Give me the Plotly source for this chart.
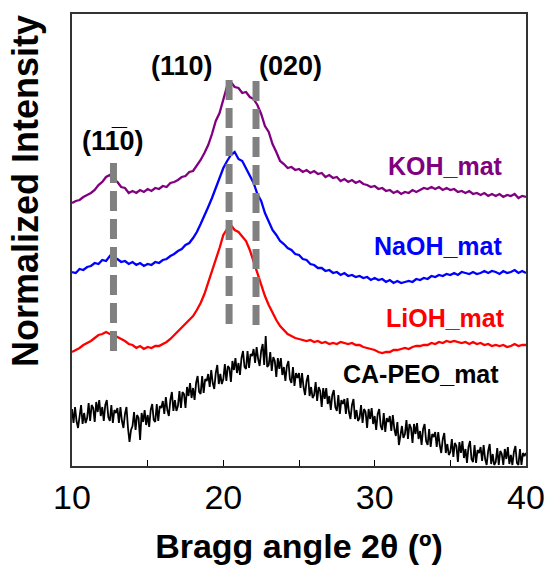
import plotly.graph_objects as go

# ---------------- data ----------------
# 2-theta sampling steps (degrees), all series start at 10 deg
step_colored = 0.25
step_black = 0.1

koh_mat = [
    263, 265, 266, 269, 271, 273, 276, 281, 284, 289, 291, 286,
    284, 279, 278, 273, 275, 273, 276, 274, 277, 275, 278, 277,
    280, 279, 283, 284, 286, 289, 290, 294, 295, 300, 306, 313,
    321, 332, 345, 353, 367, 380, 384, 379, 378, 373, 374, 369,
    367, 361, 352, 340, 334, 322, 314, 305, 302, 298, 299, 296,
    297, 294, 296, 293, 295, 292, 293, 289, 291, 288, 289, 285,
    287, 284, 286, 283, 285, 282, 281, 279, 280, 277, 278, 275,
    276, 273, 275, 272, 274, 273, 276, 274, 276, 278, 277, 279,
    277, 279, 276, 278, 276, 277, 274, 275, 273, 275, 272, 273,
    271, 273, 270, 272, 270, 272, 269, 271, 270, 272, 268, 270,
    269,
]

naoh_mat = [
    194, 193, 197, 196, 199, 200, 203, 202, 206, 205, 210, 206,
    207, 204, 205, 202, 204, 201, 203, 200, 202, 201, 204, 203,
    206, 207, 210, 212, 215, 217, 221, 223, 228, 234, 242, 250,
    259, 268, 278, 288, 298, 305, 311, 314, 307, 305, 298, 291,
    283, 272, 265, 253, 245, 236, 231, 225, 222, 218, 216, 212,
    211, 207, 206, 202, 201, 198, 198, 195, 196, 193, 194, 191,
    193, 190, 191, 189, 190, 188, 189, 186, 188, 186, 187, 184,
    186, 183, 185, 183, 184, 185, 184, 187, 186, 188, 187, 190,
    189, 191, 190, 192, 191, 193, 191, 194, 193, 192, 194, 192,
    193, 195, 193, 195, 194, 192, 195, 193, 194, 196, 193, 195,
    193,
]

lioh_mat = [
    114, 116, 118, 121, 123, 125, 128, 131, 132, 134, 132, 131,
    129, 127, 125, 122, 121, 118, 120, 117, 119, 118, 120, 120,
    122, 124, 127, 131, 135, 138, 142, 146, 150, 156, 163, 172,
    183, 195, 206, 218, 231, 237, 241, 236, 234, 229, 225, 216,
    204, 194, 180, 170, 161, 153, 146, 140, 136, 132, 130, 128,
    127, 126, 125, 126, 124, 125, 123, 124, 122, 123, 122, 124,
    123, 122, 123, 121, 121, 119, 118, 117, 116, 114, 113, 114,
    114, 116, 116, 117, 118, 117, 119, 120, 120, 121, 121, 123,
    122, 124, 123, 125, 124, 125, 124, 123, 124, 122, 124, 122,
    123, 121, 122, 120, 121, 120, 121, 119, 120, 122, 120, 121,
    121,
]

ca_peo_mat = [
    57, 43, 59, 45, 38, 53, 61, 42, 53, 43,              # 10
    48, 63, 45, 61, 58, 44, 64, 54, 66, 50,              # 11
    59, 45, 61, 66, 49, 45, 61, 43, 56, 53,              # 12
    58, 43, 59, 45, 38, 52, 59, 38, 24, 36,              # 13
    40, 54, 36, 51, 48, 26, 53, 44, 56, 41,              # 14
    51, 39, 56, 62, 46, 44, 62, 45, 60, 58,              # 15
    65, 52, 69, 56, 50, 66, 74, 55, 66, 55,              # 16
    60, 75, 58, 74, 72, 58, 79, 70, 83, 68,              # 17
    78, 66, 83, 90, 74, 72, 90, 73, 87, 85,              # 18
    92, 79, 96, 83, 77, 93, 101, 82, 92, 82,             # 19
    87, 102, 85, 100, 98, 84, 105, 96, 108, 93,          # 20
    103, 91, 108, 115, 99, 97, 115, 98, 112, 110,        # 21
    117, 103, 119, 107, 100, 115, 122, 101, 130, 99,     # 22
    101, 114, 95, 109, 105, 89, 108, 97, 108, 91,        # 23
    99, 85, 100, 105, 87, 83, 99, 80, 93, 88,            # 24
    93, 78, 93, 79, 71, 85, 91, 70, 79, 68,              # 25
    71, 84, 65, 79, 75, 59, 78, 67, 78, 62,              # 26
    70, 56, 71, 76, 59, 55, 71, 52, 66, 62,              # 27
    67, 52, 68, 54, 47, 61, 67, 47, 56, 45,              # 28
    48, 61, 43, 57, 54, 38, 57, 47, 58, 42,              # 29
    50, 36, 52, 57, 40, 36, 53, 34, 48, 44,              # 30
    50, 35, 51, 37, 30, 44, 21, 30, 40, 28,              # 31
    32, 46, 27, 42, 38, 23, 42, 32, 43, 27,              # 32
    35, 21, 37, 42, 25, 21, 37, 19, 32, 29,              # 33
    34, 19, 34, 21, 13, 27, 33, 13, 22, 11,              # 34
    14, 27, 9, 23, 20, 4, 24, 13, 25, 8,                 # 35
    17, 3, 19, 25, 7, 4, 21, 3, 16, 13,                  # 36
    19, 5, 21, 7, 1, 15, 22, 2, 12, 1,                   # 37
    4, 18, 1, 15, 12, 1, 17, 7, 19, 2,                   # 38
    11, 1, 14, 20, 3, 1, 17, 1, 13, 10,                  # 39
    13,                                                  # 40
]

series_names = ["KOH_mat", "NaOH_mat", "LiOH_mat", "CA-PEO_mat"]
series_colors = ["#800080", "#0000FF", "#FF0000", "#000000"]
label_x = [34.65, 34.19, 34.65, 33.07]
label_y = [300, 220, 148, 92]

# reflection markers
peak_pos = [12.74, 20.38, 22.16]
peak_top = [303, 386, 385]
peak_bottom = [113, 138, 136]
peak_text = ["(11\u03050)", "(110)", "(020)"]
peak_label_x = [12.74, 17.30, 24.41]
peak_label_y = [325, 400, 400]

FONT = "Arial, Liberation Sans, sans-serif"

# ---------------- figure ----------------
fig = go.Figure()

all_series = [koh_mat, naoh_mat, lioh_mat, ca_peo_mat]
steps = [step_colored, step_colored, step_colored, step_black]
widths = [2.3, 2.3, 2.3, 1.8]
for name, vals, col, st, w in zip(series_names, all_series, series_colors, steps, widths):
    xs = [10 + st * i for i in range(len(vals))]
    fig.add_trace(go.Scatter(x=xs, y=vals, mode="lines", name=name,
                             line=dict(color=col, width=w)))

for p, t, b in zip(peak_pos, peak_top, peak_bottom):
    fig.add_trace(go.Scatter(x=[p, p], y=[t, b], mode="lines",
                             line=dict(color="#808080", width=7, dash="20px,8px"),
                             showlegend=False))

for name, col, lx, ly in zip(series_names, series_colors, label_x, label_y):
    fig.add_annotation(x=lx, y=ly, text=name, showarrow=False,
                       xanchor="center", yanchor="middle",
                       font=dict(family=FONT, size=25, color=col, weight="bold"))

for txt, lx, ly in zip(peak_text, peak_label_x, peak_label_y):
    fig.add_annotation(x=lx, y=ly, text=txt, showarrow=False,
                       xanchor="center", yanchor="middle",
                       font=dict(family=FONT, size=27, color="black", weight="bold"))

fig.add_annotation(xref="paper", yref="paper", x=-0.104, y=0.608,
                   text="Normalized Intensity", textangle=-90, showarrow=False,
                   xanchor="center", yanchor="middle",
                   font=dict(family=FONT, size=36, color="black", weight="bold"))

fig.update_layout(
    width=547, height=566,
    margin=dict(l=72, r=21, t=14, b=100),
    paper_bgcolor="white", plot_bgcolor="white",
    showlegend=False,
    font=dict(family=FONT, color="black"),
)
fig.update_xaxes(
    range=[10, 40], tickvals=[10, 20, 30, 40], automargin=False,
    ticks="inside", ticklen=6, tickwidth=1.2, tickcolor="black",
    minor=dict(dtick=5, ticks="inside", ticklen=6, tickwidth=1.2, tickcolor="black"),
    showline=True, linecolor="#333333", linewidth=1.5, mirror=True,
    showgrid=False, zeroline=False,
    tickfont=dict(family=FONT, size=34, color="black"),
    title=dict(text="Bragg angle 2\u03b8 (\u00ba)", standoff=20,
               font=dict(family=FONT, size=34, color="black", weight="bold")),
)
fig.update_yaxes(
    range=[0, 452], showticklabels=False, ticks="", automargin=False,
    showline=True, linecolor="#333333", linewidth=1.5, mirror=True,
    showgrid=False, zeroline=False,
)

fig.write_html("out.html")
